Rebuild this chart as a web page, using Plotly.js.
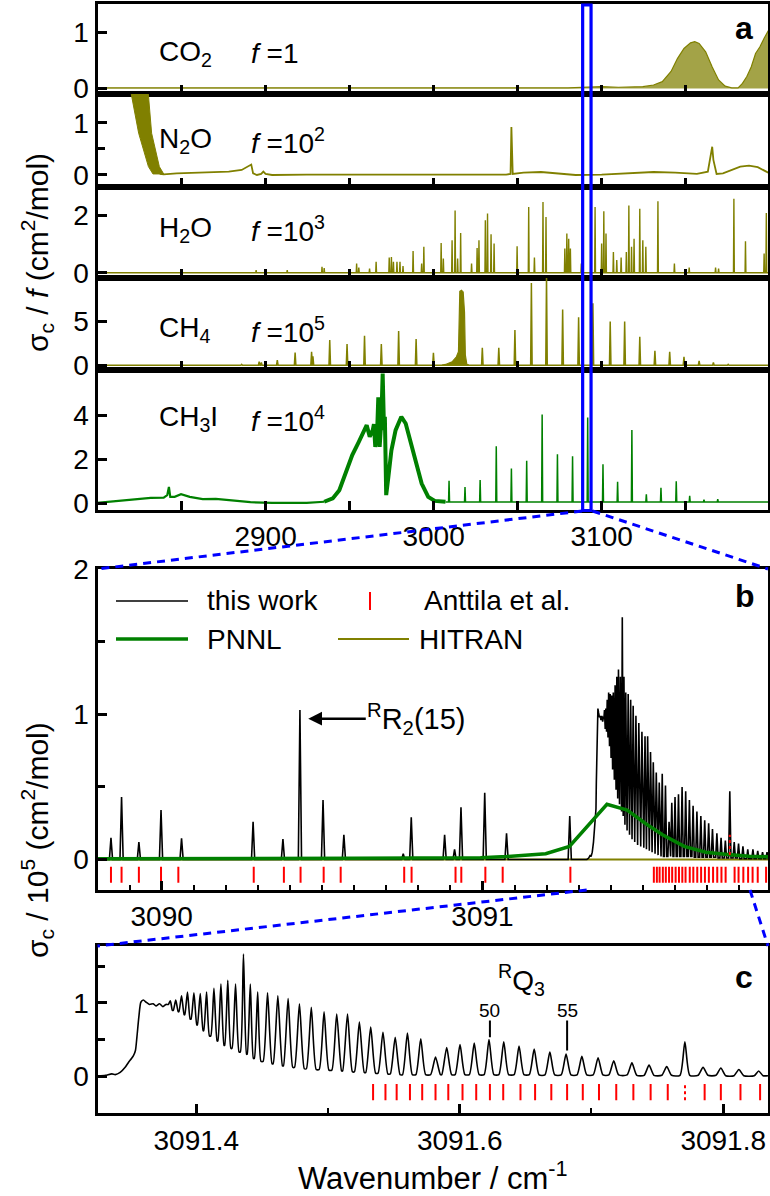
<!DOCTYPE html>
<html>
<head>
<meta charset="utf-8">
<script src="https://cdn.plot.ly/plotly-3.0.1.min.js"></script>
<style>
html,body{margin:0;padding:0;background:#fff;}
#chart{width:770px;height:1196px;}
</style>
</head>
<body>
<div id="chart"></div>
<script>
// ===================== DATA =====================
// ---- Panel a: CO2, f = 1 (cm2/mol) ----
const co2X = [2800, 2850, 2900, 2950, 3000, 3050, 3080, 3100, 3110, 3124.5, 3130.9, 3136.1, 3141.3, 3145.1, 3149.0, 3152.9, 3155.4, 3158.0, 3161.9, 3165.8, 3169.6, 3173.5, 3177.4, 3181.2, 3183.8, 3186.4, 3189.0, 3191.6, 3194.2, 3196.7, 3200];
const co2Y = [0.01, 0.01, 0.01, 0.01, 0.01, 0.01, 0.01, 0.03, 0.02, 0.03, 0.06, 0.12, 0.30, 0.53, 0.71, 0.81, 0.83, 0.80, 0.65, 0.38, 0.15, 0.04, 0.01, 0.01, 0.09, 0.21, 0.38, 0.62, 0.74, 0.89, 1.07];

// ---- Panel a: N2O, f = 1e2 ----
const n2oBandX = [2819.5, 2824.5, 2830.3, 2833.0, 2839.4, 2836.8, 2832.2, 2830.0];
const n2oBandY = [1.65, 0.80, 0.16, 0.02, 0.02, 0.16, 0.80, 1.65];
const n2oX = [2837, 2839.4, 2847.1, 2862.6, 2878.1, 2885.8, 2889.7, 2891.5, 2892.6, 2894.9, 2897.4, 2898.7, 2900.0, 2903.9, 2924.5, 2950.3, 2976.1, 3001.9, 3027.7, 3043.2, 3045.8, 3046.3, 3047.1, 3053.5, 3063.9, 3074.2, 3084.5, 3100.0, 3118.0, 3130.9, 3143.8, 3156.7, 3163.2, 3165.0, 3165.8, 3166.5, 3168.4, 3172.2, 3177.4, 3182.5, 3187.7, 3192.9, 3198.0, 3200];
const n2oY = [0.02, 0.013, 0.03, 0.045, 0.064, 0.096, 0.16, 0.20, 0.03, 0.0, 0.02, 0.064, 0.02, 0.0, 0.006, 0.006, 0.006, 0.0, 0.006, 0.006, 0.02, 0.92, 0.02, 0.045, 0.057, 0.03, 0.0, 0.006, 0.03, 0.057, 0.045, 0.02, 0.064, 0.35, 0.54, 0.29, 0.02, 0.03, 0.096, 0.16, 0.18, 0.15, 0.064, 0.03];

// ---- Panel a: H2O, f = 1e3 ----
const h2oLineX = [2894.4, 2912.9, 2933.6, 2934.9, 2954.2, 2955.5, 2961.9, 2965.8, 2973.6, 2974.9, 2976.1, 2978.2, 2980.0, 2981.8, 2987.8, 2992.9, 2994.2, 3004.5, 3005.8, 3011.0, 3012.8, 3014.3, 3016.1, 3022.6, 3025.9, 3027.0, 3030.8, 3032.1, 3034.2, 3036.0, 3049.7, 3056.6, 3060.0, 3065.1, 3066.9, 3078.1, 3079.3, 3080.4, 3081.4, 3087.9, 3096.1, 3100.0, 3101.3, 3102.6, 3107.0, 3109.0, 3111.6, 3114.7, 3116.2, 3117.8, 3119.3, 3122.7, 3124.5, 3126.3, 3133.5, 3143.3, 3152.1, 3167.8, 3169.6, 3178.7, 3185.6, 3196.7, 3198.0];
const h2oLineY = [0.09, 0.09, 0.21, 0.16, 0.32, 0.18, 0.15, 0.38, 0.53, 0.55, 0.38, 0.38, 0.38, 0.23, 0.75, 0.32, 0.90, 1.03, 0.49, 1.13, 2.16, 0.49, 1.38, 0.32, 0.86, 1.13, 1.82, 2.05, 1.33, 1.01, 0.92, 2.28, 0.53, 2.45, 1.93, 0.84, 1.36, 1.18, 0.84, 0.32, 2.28, 1.01, 2.13, 1.36, 0.72, 0.44, 0.53, 0.72, 2.33, 0.90, 1.18, 2.22, 1.13, 0.90, 2.48, 0.32, 0.18, 0.18, 0.15, 2.56, 1.09, 0.67, 2.07];

// ---- Panel a: CH4, f = 1e5 ----
const ch4LineX = [2885.8, 2896.2, 2897.5, 2907.0, 2917.6, 2927.4, 2928.2, 2938.2, 2948.5, 2958.9, 2968.9, 2979.2, 2989.6, 2999.9, 3029.0, 3038.8, 3048.4, 3058.2, 3067.2, 3076.8, 3086.3, 3094.8, 3105.1, 3113.7, 3122.7, 3131.7, 3140.5, 3149.0, 3158.0, 3166.5, 3175.3];
const ch4LineY = [0.1, 0.4, 0.3, 0.58, 1.46, 1.54, 1.0, 2.89, 2.43, 3.38, 2.43, 3.92, 3.0, 1.42, 2.0, 2.0, 4.04, 9.42, 10.3, 6.39, 5.5, 7.11, 5.0, 5.0, 3.27, 1.65, 1.54, 0.96, 0.5, 0.31, 0.1];
const ch4QX = [3005, 3007.1, 3011.0, 3013.6, 3014.8, 3015.6, 3016.6, 3017.6, 3018.4, 3018.9, 3019.8, 3021];
const ch4QY = [0.0, 0.08, 0.38, 0.96, 1.54, 8.46, 8.6, 8.4, 6.1, 1.15, 0.1, 0.0];

// ---- Panel a: CH3I (PNNL), f = 1e4 ----
const ch3iHumpX = [2799.4, 2811.0, 2821.3, 2831.7, 2839.4, 2841.5, 2842.5, 2843.3, 2845.9, 2849.7, 2854.9, 2862.6, 2870.4, 2880.7, 2891.0, 2903.9, 2924.5, 2934.9];
const ch3iHumpY = [0.03, 0.11, 0.2, 0.26, 0.27, 0.38, 0.75, 0.3, 0.3, 0.42, 0.3, 0.2, 0.21, 0.12, 0.06, 0.03, 0.03, 0.08];
const ch3iBandX = [2934.9, 2940.0, 2943.9, 2947.8, 2951.6, 2955.5, 2958.6, 2960.2, 2962.0, 2963.8, 2964.5, 2965.3, 2966.3, 2967.1, 2967.9, 2968.9, 2969.7, 2970.5, 2971.0, 2971.8, 2973.1, 2974.9, 2977.4, 2980.8, 2983.4, 2986.5, 2989.6, 2992.9, 2996.8, 3000.7, 3007.1];
const ch3iBandY = [0.08, 0.23, 0.6, 1.36, 2.19, 2.79, 3.24, 3.54, 3.02, 3.32, 3.59, 2.56, 3.02, 4.8, 2.56, 3.77, 5.88, 3.32, 3.92, 0.38, 1.21, 2.41, 3.32, 3.92, 3.62, 2.71, 1.81, 0.9, 0.3, 0.12, 0.08];
const ch3iLineX = [3009.2, 3018.7, 3027.7, 3037.3, 3046.3, 3055.4, 3064.6, 3073.7, 3082.7, 3091.7, 3100.8, 3109.5, 3118.0, 3126.6, 3135.3, 3144.4, 3152.4, 3160.9, 3169.1];
const ch3iLineY = [1.03, 0.75, 1.06, 2.59, 1.58, 1.93, 4.03, 2.23, 2.14, 3.89, 1.78, 0.98, 3.32, 0.42, 0.71, 1.01, 0.35, 0.18, 0.2];
const ch3iBase = 0.07;

// zoom window marked in panel a (cm-1)
const zoomWindowA = [3088.7, 3093.7];

// ---- Panel b: this work (units 1e5 cm2/mol) ----
const bLineX = [3089.842, 3089.875, 3089.929, 3089.998, 3090.062, 3090.285, 3090.378, 3090.431, 3090.503, 3090.568, 3090.753, 3090.778, 3090.882, 3090.913, 3090.933, 3091.007, 3091.075, 3091.272];
const bLineY = [0.15, 0.43, 0.12, 0.34, 0.145, 0.26, 0.14, 1.03, 0.41, 0.17, 0.04, 0.29, 0.17, 0.07, 0.36, 0.46, 0.18, 0.30];
const bTailX = [3091.843, 3091.858, 3091.873, 3091.887];
const bTailY = [0.07, 0.06, 0.05, 0.05];

// ---- PNNL (panel b) ----
const pnnlX = [3089.80, 3090.20, 3090.60, 3090.994, 3091.075, 3091.197, 3091.271, 3091.388, 3091.451, 3091.507, 3091.561, 3091.629, 3091.696, 3091.764, 3091.831, 3091.896];
const pnnlY = [0.005, 0.005, 0.008, 0.012, 0.02, 0.04, 0.09, 0.38, 0.34, 0.25, 0.17, 0.09, 0.05, 0.035, 0.023, 0.018];
// ---- HITRAN CH3I (panel b, at baseline) ----
const hitranBX = [3089.80, 3091.89];
const hitranBY = [0.0, 0.0];

// ---- Anttila et al. line positions ----
const anttilaX = [3089.842, 3089.875, 3089.929, 3089.998, 3090.052, 3090.287, 3090.381, 3090.433, 3090.505, 3090.558, 3090.756, 3090.779, 3090.916, 3090.934, 3091.009, 3091.063, 3091.274,
  3091.5342, 3091.5436, 3091.5521, 3091.5622, 3091.5715, 3091.5816, 3091.5913, 3091.6021, 3091.6125, 3091.6229, 3091.6330, 3091.6461, 3091.6572, 3091.6695, 3091.6815, 3091.6934, 3091.7057, 3091.7188, 3091.7318, 3091.7449, 3091.7579,
  3091.7859, 3091.7982, 3091.8131, 3091.8280, 3091.842, 3091.858, 3091.884];
const anttilaDottedX = [3091.771];

// ---- Panel c: RQ3 branch of this work ----
const cEdgeX = [3091.3255, 3091.3311, 3091.3359, 3091.3385, 3091.3422, 3091.3460, 3091.3486, 3091.3508, 3091.3523, 3091.3538, 3091.3549, 3091.3564, 3091.3579, 3091.3598, 3091.3620, 3091.3646, 3091.3672, 3091.3694, 3091.3721, 3091.3747, 3091.3769];
const cEdgeY = [0.0, 0.01, 0.03, 0.02, 0.05, 0.12, 0.19, 0.24, 0.28, 0.35, 0.53, 0.81, 1.01, 1.04, 1.01, 0.98, 0.99, 0.96, 0.99, 0.95, 0.98];
const cPeakX = [3091.3803, 3091.3844, 3091.3888, 3091.3933, 3091.3982, 3091.4030, 3091.4078, 3091.4134, 3091.4187, 3091.4239, 3091.4298, 3091.4358, 3091.4410, 3091.4466, 3091.4541, 3091.4619, 3091.4697, 3091.4783, 3091.4873, 3091.4970, 3091.5066, 3091.5148, 3091.5238, 3091.5324, 3091.5417, 3091.5510, 3091.5603, 3091.5704, 3091.5816, 3091.5901, 3091.6002, 3091.6110, 3091.6222, 3091.6334, 3091.6450, 3091.6565, 3091.6684, 3091.6807, 3091.6927, 3091.7050, 3091.7169, 3091.7307, 3091.7437, 3091.7571, 3091.7709, 3091.7847, 3091.7982, 3091.8119, 3091.8269];
const cPeakY = [1.03, 1.04, 1.10, 1.15, 1.14, 1.13, 1.15, 1.20, 1.26, 1.31, 1.26, 1.67, 1.26, 1.15, 1.14, 1.10, 1.06, 0.99, 0.94, 0.88, 0.85, 0.85, 0.74, 0.67, 0.60, 0.53, 0.59, 0.51, 0.26, 0.39, 0.43, 0.45, 0.50, 0.47, 0.41, 0.37, 0.33, 0.30, 0.27, 0.25, 0.21, 0.18, 0.15, 0.13, 0.47, 0.12, 0.11, 0.09, 0.07];
const cValleyY = [0.90, 0.88, 0.84, 0.78, 0.70, 0.62, 0.55, 0.48, 0.42, 0.38, 0.33, 0.30, 0.24, 0.20, 0.17, 0.14, 0.12, 0.10, 0.09, 0.08, 0.07, 0.06, 0.05, 0.04, 0.03, 0.02, 0.02, 0.02, 0.02, 0.02, 0.02, 0.02, 0.02, 0.02, 0.02, 0.015, 0.015, 0.015, 0.015, 0.015, 0.015, 0.01, 0.01, 0.01, 0.01, 0.01, 0.005, 0.005, 0.005];
const cEndX = 3091.834;
// labelled RQ3 lines
const rq3Labels = ['50', '55'];
const rq3LabelX = [3091.6229, 3091.6815];
const rq3MarkLow = [0.53, 0.35];

// tick labels
const aTickVals = [2900, 3000, 3100];
const aTickText = ['2900', '3000', '3100'];
const aMinorVals = [2850, 2950, 3050, 3150];
const bTickVals = [3090, 3091];
const bTickText = ['3090', '3091'];
const cTickVals = [3091.4, 3091.6, 3091.8];
const cTickText = ['3091.4', '3091.6', '3091.8'];

// ===================== HELPERS =====================
const FONT = '"Liberation Sans", Arial, Helvetica, sans-serif';
const OLIVE = 'rgb(128,128,0)', GREEN = 'rgb(0,128,0)', RED = 'rgb(255,0,0)', BLUE = 'rgb(0,0,255)';
const W = 770, H = 1196;
const XDOM = [97.5 / W, 768 / W];
const py2p = py => 1 - py / H;
const px2p = px => px / W;

function stickPath(xs, ys, base, hw, x0, x1) {
  const X = [x0], Y = [base];
  xs.forEach((x, i) => { X.push(x - hw, x, x + hw); Y.push(base, ys[i], base); });
  X.push(x1); Y.push(base);
  return {X, Y};
}
function bandPath(edgeX, edgeY, px, py, vy, maxHw, endX) {
  const X = edgeX.slice(), Y = edgeY.slice();
  let prevV = edgeY[edgeY.length - 1];
  let prevX = edgeX[edgeX.length - 1];
  for (let i = 0; i < px.length; i++) {
    const dl = px[i] - prevX;
    const dr = i < px.length - 1 ? px[i + 1] - px[i] : 2 * maxHw;
    const hw = Math.min(maxHw, 0.45 * dl, 0.45 * dr);
    X.push(px[i] - hw, px[i], px[i] + hw);
    Y.push(prevV, py[i], vy[i]);
    prevV = vy[i]; prevX = px[i];
  }
  X.push(endX); Y.push(prevV);
  return {X, Y};
}
function tickMarks(xs, lo, hi) {
  const X = [], Y = [];
  xs.forEach(x => { X.push(x, x, null); Y.push(lo, hi, null); });
  return {X, Y};
}

// ===================== TRACES =====================
const traces = [];
traces.push({x: co2X, y: co2Y, xaxis: 'x', yaxis: 'y', mode: 'lines', fill: 'tozeroy', fillcolor: 'rgba(128,128,0,0.72)', line: {color: OLIVE, width: 1.2}});
traces.push({x: n2oBandX, y: n2oBandY, xaxis: 'x2', yaxis: 'y2', mode: 'lines', fill: 'toself', fillcolor: OLIVE, line: {color: OLIVE, width: 1}});
traces.push({x: n2oX, y: n2oY, xaxis: 'x2', yaxis: 'y2', mode: 'lines', line: {color: OLIVE, width: 1.8}});
const h2o = stickPath(h2oLineX, h2oLineY, 0, 0.25, 2800, 3200);
traces.push({x: h2o.X, y: h2o.Y, xaxis: 'x3', yaxis: 'y3', mode: 'lines', line: {color: OLIVE, width: 1.4}});
const ch4 = stickPath(ch4LineX, ch4LineY, 0, 0.45, 2800, 3200);
traces.push({x: ch4.X, y: ch4.Y, xaxis: 'x4', yaxis: 'y4', mode: 'lines', line: {color: OLIVE, width: 1.5}});
traces.push({x: ch4QX, y: ch4QY, xaxis: 'x4', yaxis: 'y4', mode: 'lines', fill: 'toself', fillcolor: OLIVE, line: {color: OLIVE, width: 1.2}});
traces.push({x: ch3iHumpX, y: ch3iHumpY, xaxis: 'x5', yaxis: 'y5', mode: 'lines', line: {color: GREEN, width: 2.2}});
traces.push({x: ch3iBandX, y: ch3iBandY, xaxis: 'x5', yaxis: 'y5', mode: 'lines', line: {color: GREEN, width: 4}});
const ch3i = stickPath(ch3iLineX, ch3iLineY, ch3iBase, 0.3, 3007.1, 3200);
traces.push({x: ch3i.X, y: ch3i.Y, xaxis: 'x5', yaxis: 'y5', mode: 'lines', line: {color: GREEN, width: 1.5}});

// Panel b
const bSt = stickPath(bLineX, bLineY, 0, 0.005, 3089.80, cEdgeX[0]);
const bandB = bandPath(cEdgeX, cEdgeY, cPeakX, cPeakY, cValleyY, 0.0037, cEndX);
const bTail = stickPath(bTailX, bTailY, 0.005, 0.0035, cEndX, 3091.90);
traces.push({x: hitranBX, y: hitranBY, xaxis: 'x6', yaxis: 'y6', mode: 'lines', line: {color: OLIVE, width: 2}});
traces.push({x: bSt.X.concat(bandB.X, bTail.X), y: bSt.Y.concat(bandB.Y, bTail.Y), xaxis: 'x6', yaxis: 'y6', mode: 'lines', line: {color: '#000', width: 1.6}});
traces.push({x: pnnlX, y: pnnlY, xaxis: 'x6', yaxis: 'y6', mode: 'lines', line: {color: GREEN, width: 3.5}});
const redB = tickMarks(anttilaX, -0.16, -0.05);
traces.push({x: redB.X, y: redB.Y, xaxis: 'x6', yaxis: 'y6', mode: 'lines', line: {color: RED, width: 2}});
const redBd = tickMarks(anttilaDottedX, 0.03, 0.17);
traces.push({x: redBd.X, y: redBd.Y, xaxis: 'x6', yaxis: 'y6', mode: 'lines', line: {color: RED, width: 2, dash: 'dot'}});

// Panel c
const bandC = bandPath(cEdgeX, cEdgeY, cPeakX, cPeakY, cValleyY, 0.0037, cEndX);
traces.push({x: bandC.X, y: bandC.Y, xaxis: 'x7', yaxis: 'y7', mode: 'lines', line: {color: '#000', width: 1.6, shape: 'spline', smoothing: 0.6}});
const redC = tickMarks(anttilaX, -0.33, -0.11);
traces.push({x: redC.X, y: redC.Y, xaxis: 'x7', yaxis: 'y7', mode: 'lines', line: {color: RED, width: 2}});
const redCd = tickMarks(anttilaDottedX, -0.33, -0.11);
traces.push({x: redCd.X, y: redCd.Y, xaxis: 'x7', yaxis: 'y7', mode: 'lines', line: {color: RED, width: 2, dash: 'dot'}});

traces.forEach(t => { t.showlegend = false; t.hoverinfo = 'skip'; });

// ===================== AXES =====================
const axCommon = {showline: true, linewidth: 3, linecolor: '#000', mirror: true, zeroline: false, showgrid: false,
  ticks: 'inside', ticklen: 9, tickwidth: 3, tickcolor: '#000', fixedrange: true,
  tickfont: {family: FONT, size: 28, color: '#000'}};
function yAx(pyTop, pyBot, range, vals, minorVals, anchor) {
  const ax = Object.assign({}, axCommon, {domain: [py2p(pyBot), py2p(pyTop)], range, tickmode: 'array', tickvals: vals, ticktext: vals.map(String), anchor});
  if (minorVals.length) ax.minor = {ticks: 'inside', ticklen: 7, tickwidth: 3, tickcolor: '#000', tickmode: 'array', tickvals: minorVals, showgrid: false};
  return ax;
}
function xTop(anchor, showLabels) {
  return Object.assign({}, axCommon, {domain: XDOM, range: [2800, 3199], anchor, tickmode: 'array', tickvals: aTickVals, ticktext: aTickText, showticklabels: showLabels,
    minor: {ticks: 'inside', ticklen: 9, tickwidth: 3, tickcolor: '#000', tickmode: 'array', tickvals: aMinorVals, showgrid: false}});
}

const layout = {
  width: W, height: H, margin: {l: 0, r: 0, t: 0, b: 0},
  paper_bgcolor: '#fff', plot_bgcolor: 'rgba(0,0,0,0)', showlegend: false,
  font: {family: FONT, size: 27, color: '#000'},
  xaxis: xTop('y', false), yaxis: yAx(4, 94, [-0.1, 1.5], [0, 1], [], 'x'),
  xaxis2: xTop('y2', false), yaxis2: yAx(94, 187, [-0.23, 1.55], [0, 1], [0.5], 'x2'),
  xaxis3: xTop('y3', false), yaxis3: yAx(187, 278, [-0.18, 2.97], [0, 2], [], 'x3'),
  xaxis4: xTop('y4', false), yaxis4: yAx(278, 369.5, [-0.5, 10.0], [0, 5], [], 'x4'),
  xaxis5: xTop('y5', true), yaxis5: yAx(369.5, 509.5, [-0.27, 6.06], [0, 2, 4], [], 'x5'),
  xaxis6: Object.assign({}, axCommon, {domain: XDOM, range: [3089.8, 3091.89], anchor: 'y6', tickmode: 'array', tickvals: bTickVals, ticktext: bTickText,
    minor: {ticks: 'inside', ticklen: 5, tickwidth: 2, tickcolor: '#000', tickmode: 'linear', tick0: 3089.8, dtick: 0.1, showgrid: false}}),
  yaxis6: yAx(569, 889.5, [-0.207, 2.002], [0, 1, 2], [0.5, 1.5], 'x6'),
  xaxis7: Object.assign({}, axCommon, {domain: XDOM, range: [3091.325, 3091.834], anchor: 'y7', tickmode: 'array', tickvals: cTickVals, ticktext: cTickText,
    minor: {ticks: 'inside', ticklen: 5, tickwidth: 2, tickcolor: '#000', tickmode: 'linear', tick0: 3091.3, dtick: 0.1, showgrid: false},
    title: {text: 'Wavenumber / cm<sup>-1</sup>', font: {family: FONT, size: 31, color: '#000'}, standoff: 12}}),
  yaxis7: yAx(946, 1113.3, [-0.51, 1.78], [0, 1], [0.5, 1.5], 'x7')
};

// ===================== SHAPES =====================
const shapes = [];
shapes.push({type: 'rect', xref: 'x5', yref: 'paper', x0: zoomWindowA[0], x1: zoomWindowA[1], y0: py2p(510.5), y1: py2p(5), line: {color: BLUE, width: 3.2}, fillcolor: 'rgba(0,0,0,0)'});
const dashStyle = {color: BLUE, width: 3, dash: '8px,6px'};
shapes.push({type: 'line', xref: 'paper', yref: 'paper', x0: px2p(582), y0: py2p(511), x1: px2p(97.5), y1: py2p(569), line: dashStyle});
shapes.push({type: 'line', xref: 'paper', yref: 'paper', x0: px2p(592.5), y0: py2p(511), x1: px2p(768), y1: py2p(569), line: dashStyle});
shapes.push({type: 'line', xref: 'paper', yref: 'paper', x0: px2p(586.7), y0: py2p(890), x1: px2p(97.5), y1: py2p(946), line: dashStyle});
shapes.push({type: 'line', xref: 'paper', yref: 'paper', x0: px2p(750), y0: py2p(890), x1: px2p(768), y1: py2p(946), line: dashStyle});
shapes.push({type: 'line', xref: 'paper', yref: 'paper', x0: px2p(116), x1: px2p(188), y0: py2p(601), y1: py2p(601), line: {color: '#000', width: 1.5}});
shapes.push({type: 'line', xref: 'paper', yref: 'paper', x0: px2p(370), x1: px2p(370), y0: py2p(592), y1: py2p(610), line: {color: RED, width: 2}});
shapes.push({type: 'line', xref: 'paper', yref: 'paper', x0: px2p(116), x1: px2p(188), y0: py2p(639), y1: py2p(639), line: {color: GREEN, width: 3.5}});
shapes.push({type: 'line', xref: 'paper', yref: 'paper', x0: px2p(338), x1: px2p(409), y0: py2p(639), y1: py2p(639), line: {color: OLIVE, width: 2}});
rq3LabelX.forEach((x, i) => shapes.push({type: 'line', xref: 'x7', yref: 'y7', x0: x, x1: x, y0: rq3MarkLow[i], y1: 0.76, line: {color: '#000', width: 2}}));
layout.shapes = shapes;

// ===================== ANNOTATIONS =====================
const ann = [];
function addText(text, px, py, size, opts) {
  ann.push(Object.assign({text, xref: 'paper', yref: 'paper', x: px2p(px), y: py2p(py), xanchor: 'left', yanchor: 'middle', showarrow: false,
    font: {family: FONT, size, color: '#000'}}, opts || {}));
}
const species = [['CO<sub>2</sub>', '<i>f</i> =1', 53], ['N<sub>2</sub>O', '<i>f</i> =10<sup>2</sup>', 141], ['H<sub>2</sub>O', '<i>f</i> =10<sup>3</sup>', 229], ['CH<sub>4</sub>', '<i>f</i> =10<sup>5</sup>', 330], ['CH<sub>3</sub>I', '<i>f</i> =10<sup>4</sup>', 419]];
species.forEach(s => { addText(s[0], 157, s[2], 28); addText(s[1], 249, s[2], 28); });
addText('<b>a</b>', 744, 28, 32, {xanchor: 'center'});
addText('<b>b</b>', 745, 596, 32, {xanchor: 'center'});
addText('<b>c</b>', 744, 977, 32, {xanchor: 'center'});
addText('σ<sub>c</sub> / <i>f</i> (cm<sup>2</sup>/mol)', 37, 253, 30, {xanchor: 'center', textangle: -90});
addText('σ<sub>c</sub> / 10<sup>5</sup> (cm<sup>2</sup>/mol)', 37, 840, 30, {xanchor: 'center', textangle: -90});
addText('this work', 205, 600, 28);
addText('Anttila et al.', 422, 600, 28);
addText('PNNL', 205, 639, 28);
addText('HITRAN', 417, 639, 28);
addText('<sup>R</sup>Q<sub>3</sub>', 496, 980, 28);
rq3Labels.forEach((t, i) => ann.push({text: t, xref: 'x7', yref: 'y7', x: rq3LabelX[i], y: 0.9, xanchor: 'center', yanchor: 'middle', showarrow: false, font: {family: FONT, size: 19, color: '#000'}}));
ann.push({text: '<sup>R</sup>R<sub>2</sub>(15)', xref: 'x6', yref: 'y6', x: 3090.457, y: 0.97, ax: 108, ay: 0, axref: 'pixel', ayref: 'pixel',
  showarrow: true, arrowhead: 2, arrowsize: 1.1, arrowwidth: 2.5, arrowcolor: '#000', standoff: 0, font: {family: FONT, size: 29, color: '#000'}});
layout.annotations = ann;

Plotly.newPlot('chart', traces, layout, {staticPlot: true, displayModeBar: false});
</script>
</body>
</html>
